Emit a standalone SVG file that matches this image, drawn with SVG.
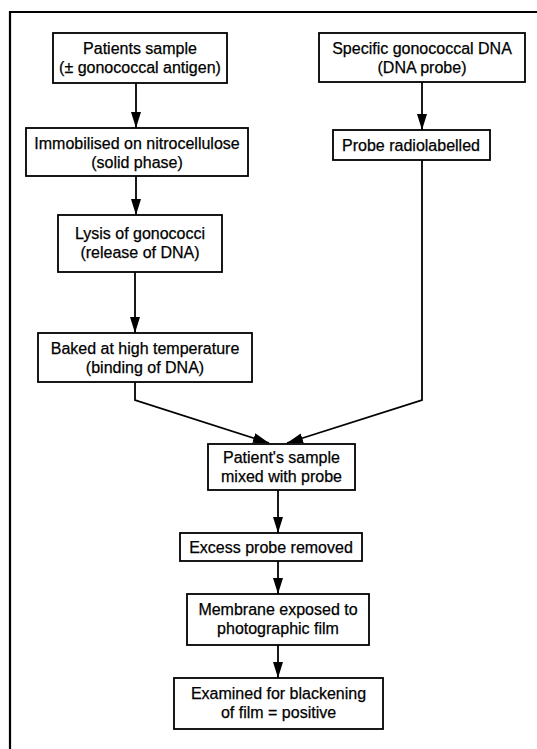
<svg xmlns="http://www.w3.org/2000/svg" width="537" height="749" viewBox="0 0 537 749">
<defs>
<marker id="ah" viewBox="0 0 16 10" refX="16" refY="5" markerWidth="16" markerHeight="10" markerUnits="userSpaceOnUse" orient="auto"><path d="M0,0 L16,5 L0,10 Z" fill="#000"/></marker>
</defs>
<style>
.box{fill:#fff;stroke:#000;stroke-width:1.8}
.t{font-family:"Liberation Sans",Arial,Helvetica,sans-serif;font-size:16px;fill:#000;stroke:#000;stroke-width:0.25;text-anchor:middle}
.c{fill:none;stroke:#000;stroke-width:1.8;marker-end:url(#ah)}
</style>
<rect width="537" height="749" fill="#fff"/>
<path d="M10,749 V12 H537" fill="none" stroke="#000" stroke-width="2.2"/>
<g id="connectors">
<path class="c" d="M136,83 V128"/>
<path class="c" d="M136,176 V215"/>
<path class="c" d="M135,272 V333"/>
<path class="c" d="M422,82 V130"/>
<path class="c" d="M422,160 V400 L287,443"/>
<path class="c" d="M135,382 V400 L269,443"/>
<path class="c" d="M278,490 V533"/>
<path class="c" d="M278,561 V594"/>
<path class="c" d="M278,645 V678"/>
</g>
<g id="n1"><rect class="box" x="53" y="33" width="174" height="50"/><text class="t" x="140" y="54">Patients sample</text><text class="t" x="140" y="73">(± gonococcal antigen)</text></g>
<g id="n2"><rect class="box" x="26" y="128" width="222" height="48"/><text class="t" x="137" y="148.5">Immobilised on nitrocellulose</text><text class="t" x="137" y="167.5">(solid phase)</text></g>
<g id="n3"><rect class="box" x="58" y="215" width="164" height="57"/><text class="t" x="140" y="239">Lysis of gonococci</text><text class="t" x="140" y="258">(release of DNA)</text></g>
<g id="n4"><rect class="box" x="38" y="333" width="214" height="49"/><text class="t" x="145" y="354">Baked at high temperature</text><text class="t" x="145" y="373">(binding of DNA)</text></g>
<g id="n5"><rect class="box" x="319" y="33" width="206" height="49"/><text class="t" x="422" y="54">Specific gonococcal DNA</text><text class="t" x="422" y="73">(DNA probe)</text></g>
<g id="n6"><rect class="box" x="333" y="130" width="157" height="30"/><text class="t" x="411" y="151">Probe radiolabelled</text></g>
<g id="n7"><rect class="box" x="208" y="444" width="147" height="46"/><text class="t" x="281.5" y="463">Patient's sample</text><text class="t" x="281.5" y="482">mixed with probe</text></g>
<g id="n8"><rect class="box" x="180" y="533" width="182" height="28"/><text class="t" x="271" y="553">Excess probe removed</text></g>
<g id="n9"><rect class="box" x="187" y="594" width="182" height="51"/><text class="t" x="278" y="615">Membrane exposed to</text><text class="t" x="278" y="634">photographic film</text></g>
<g id="n10"><rect class="box" x="174" y="678" width="209" height="51"/><text class="t" x="278.5" y="699">Examined for blackening</text><text class="t" x="278.5" y="718">of film = positive</text></g>
</svg>
